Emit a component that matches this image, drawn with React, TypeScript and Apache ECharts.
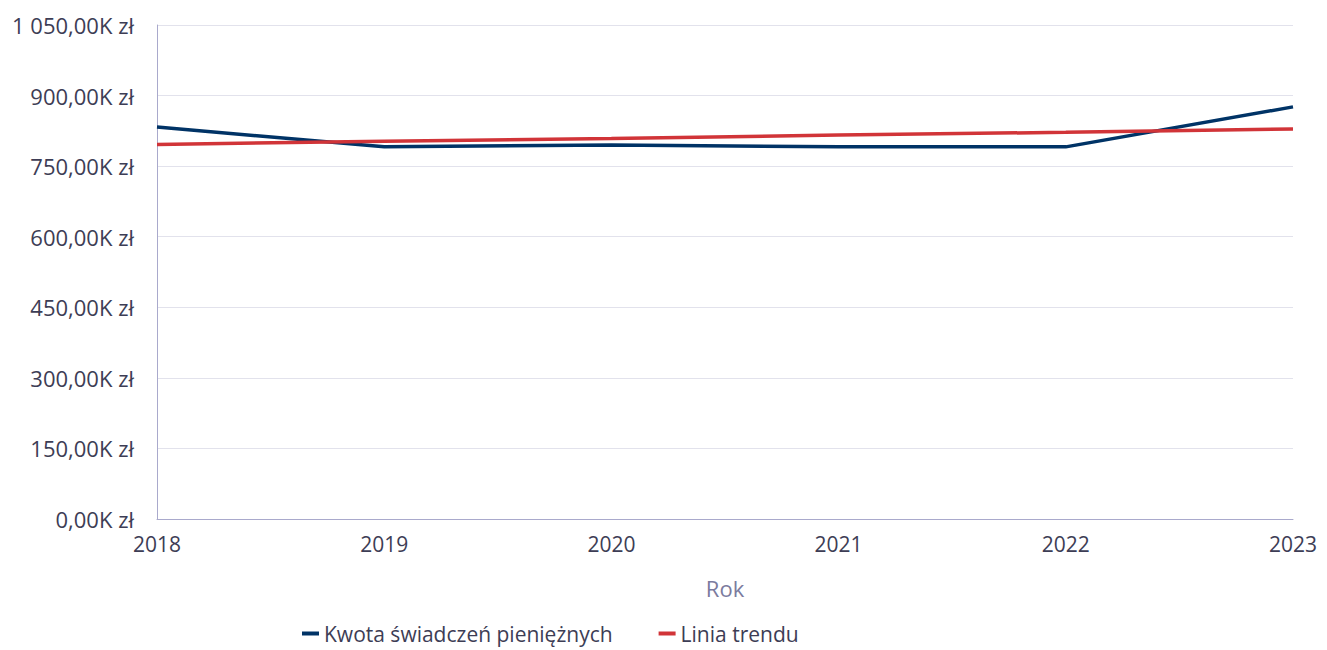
import React, { useEffect, useRef } from "react";
import * as echarts from "echarts";

const years = ["2018", "2019", "2020", "2021", "2022", "2023"];
const kwota = [833, 791, 795, 791, 791, 876];
const trend = [796, 803, 809, 816, 822, 829];

const fmt = (v: number) => {
  const s = v.toFixed(2).replace(".", ",");
  const [int, dec] = s.split(",");
  const withSpace = int.replace(/\B(?=(\d{3})+(?!\d))/g, " ");
  return `${withSpace},${dec}K zł`;
};

export default function App() {
  const ref = useRef<HTMLDivElement>(null);
  useEffect(() => {
    const chart = echarts.init(ref.current!, undefined, { renderer: "svg" });
    const font = "'Open Sans', 'Noto Sans', sans-serif";
    chart.setOption({
      animation: false,
      textStyle: { fontFamily: font },
      grid: { left: 157, right: 34, top: 25, bottom: 131, containLabel: false },
      legend: {
        left: 302,
        top: 623,
        padding: 0,
        itemWidth: 17,
        itemHeight: 4,
        itemGap: 46,
        icon: "rect",
        textStyle: { fontSize: 21, color: "#3d3d55", fontFamily: font },
        data: ["Kwota świadczeń pieniężnych", "Linia trendu"],
      },
      xAxis: {
        type: "category",
        data: years,
        boundaryGap: false,
        name: "Rok",
        nameLocation: "middle",
        nameGap: 58,
        nameTextStyle: { fontSize: 22, color: "#7b7b9e", fontFamily: font },
        axisLine: { lineStyle: { color: "#a9a9cc", width: 1 } },
        axisTick: { show: false },
        axisLabel: { fontSize: 21, color: "#3d3d55", margin: 14 },
        splitLine: { show: false },
      },
      yAxis: {
        type: "value",
        min: 0,
        max: 1050,
        interval: 150,
        axisLine: { show: true, lineStyle: { color: "#a9a9cc", width: 1 } },
        axisTick: { show: false },
        axisLabel: { fontSize: 22, color: "#3d3d55", margin: 23, formatter: (v: number) => fmt(v) },
        splitLine: { show: true, lineStyle: { color: "#e2e2ec", width: 1 } },
      },
      series: [
        {
          name: "Kwota świadczeń pieniężnych",
          type: "line",
          data: kwota,
          symbol: "none",
          lineStyle: { color: "#003366", width: 3.5 },
          itemStyle: { color: "#003366" },
        },
        {
          name: "Linia trendu",
          type: "line",
          data: trend,
          symbol: "none",
          lineStyle: { color: "#d13438", width: 3.5 },
          itemStyle: { color: "#d13438" },
        },
      ],
    });
    return () => chart.dispose();
  }, []);
  return <div ref={ref} style={{ width: 1327, height: 650, position: "absolute", left: 0, top: 0 }} />;
}
